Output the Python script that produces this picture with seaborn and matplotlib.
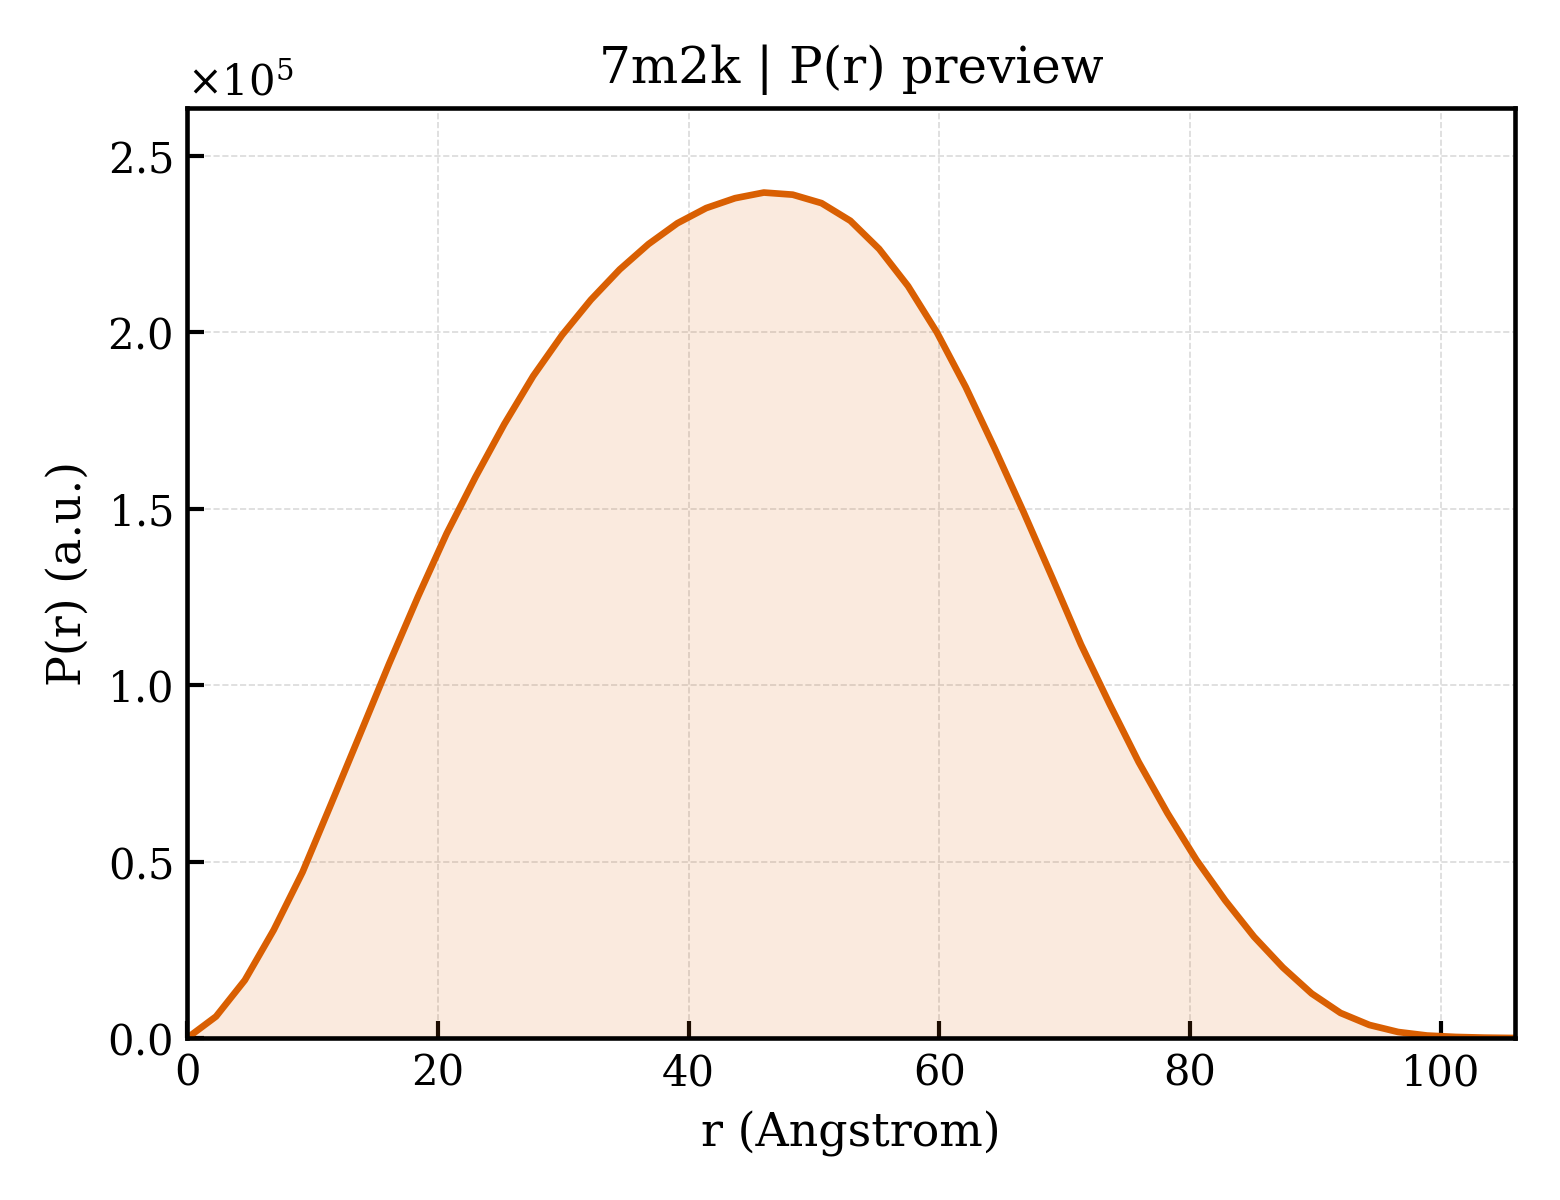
import numpy as np
import pandas as pd
import matplotlib
matplotlib.use("Agg")
import matplotlib.pyplot as plt
import seaborn as sns
from matplotlib.ticker import ScalarFormatter

# P(r) values (r in Angstrom, P in units of 1e5)
r = [0.0, 2.3, 4.6, 6.9, 9.2, 11.5, 13.8, 16.1, 18.4, 20.7,
     23.0, 25.3, 27.6, 29.9, 32.2, 34.5, 36.8, 39.1, 41.4, 43.7,
     46.0, 48.3, 50.6, 52.9, 55.2, 57.5, 59.8, 62.1, 64.4, 66.7,
     69.0, 71.3, 73.6, 75.9, 78.2, 80.5, 82.8, 85.1, 87.4, 89.7,
     92.0, 94.3, 96.6, 98.9, 101.2, 103.5, 105.9]
pr = [0.0, 0.061, 0.164, 0.306, 0.470, 0.665, 0.862, 1.060, 1.250, 1.430,
      1.590, 1.740, 1.876, 1.992, 2.092, 2.178, 2.250, 2.309, 2.352, 2.380,
      2.396, 2.390, 2.366, 2.316, 2.236, 2.131, 2.000, 1.845, 1.672, 1.492,
      1.305, 1.115, 0.945, 0.782, 0.637, 0.505, 0.390, 0.287, 0.200, 0.126,
      0.071, 0.037, 0.017, 0.007, 0.003, 0.001, 0.0]
pr = [v * 1e5 for v in pr]

df = pd.DataFrame({"r": r, "P": pr})
color = "#d95f02"

sns.set_style("white")
plt.rcParams["font.family"] = ["DejaVu Serif"]
plt.rcParams["mathtext.fontset"] = "dejavuserif"
plt.rcParams["text.color"] = "black"
plt.rcParams["axes.labelcolor"] = "black"
plt.rcParams["xtick.color"] = "black"
plt.rcParams["ytick.color"] = "black"

fig, ax = plt.subplots(figsize=(5.2, 4), dpi=300)
fig.subplots_adjust(left=0.12, right=0.971, top=0.91, bottom=0.135)

ax.fill_between(df["r"], df["P"], 0, color=color, alpha=0.13, linewidth=0)
sns.lineplot(data=df, x="r", y="P", color=color, linewidth=1.6, ax=ax)

ax.set_xlim(0, max(r))
ax.set_ylim(0, max(pr) * 1.1)
ax.set_xlabel("r (Angstrom)", fontsize=11)
ax.set_ylabel("P(r) (a.u.)", fontsize=11)
ax.set_title("7m2k | P(r) preview", fontsize=12)

fmt = ScalarFormatter(useMathText=True)
fmt.set_powerlimits((0, 0))
ax.yaxis.set_major_formatter(fmt)
ax.yaxis.get_offset_text().set_fontsize(10)

ax.tick_params(direction="in", labelsize=10, length=4, width=1,
               bottom=True, left=True, colors="black")
ax.grid(True, linestyle="--", linewidth=0.4, color="#dadada")
for s in ax.spines.values():
    s.set_linewidth(1.1)
    s.set_color("black")

fig.savefig("out.png", dpi=300)
